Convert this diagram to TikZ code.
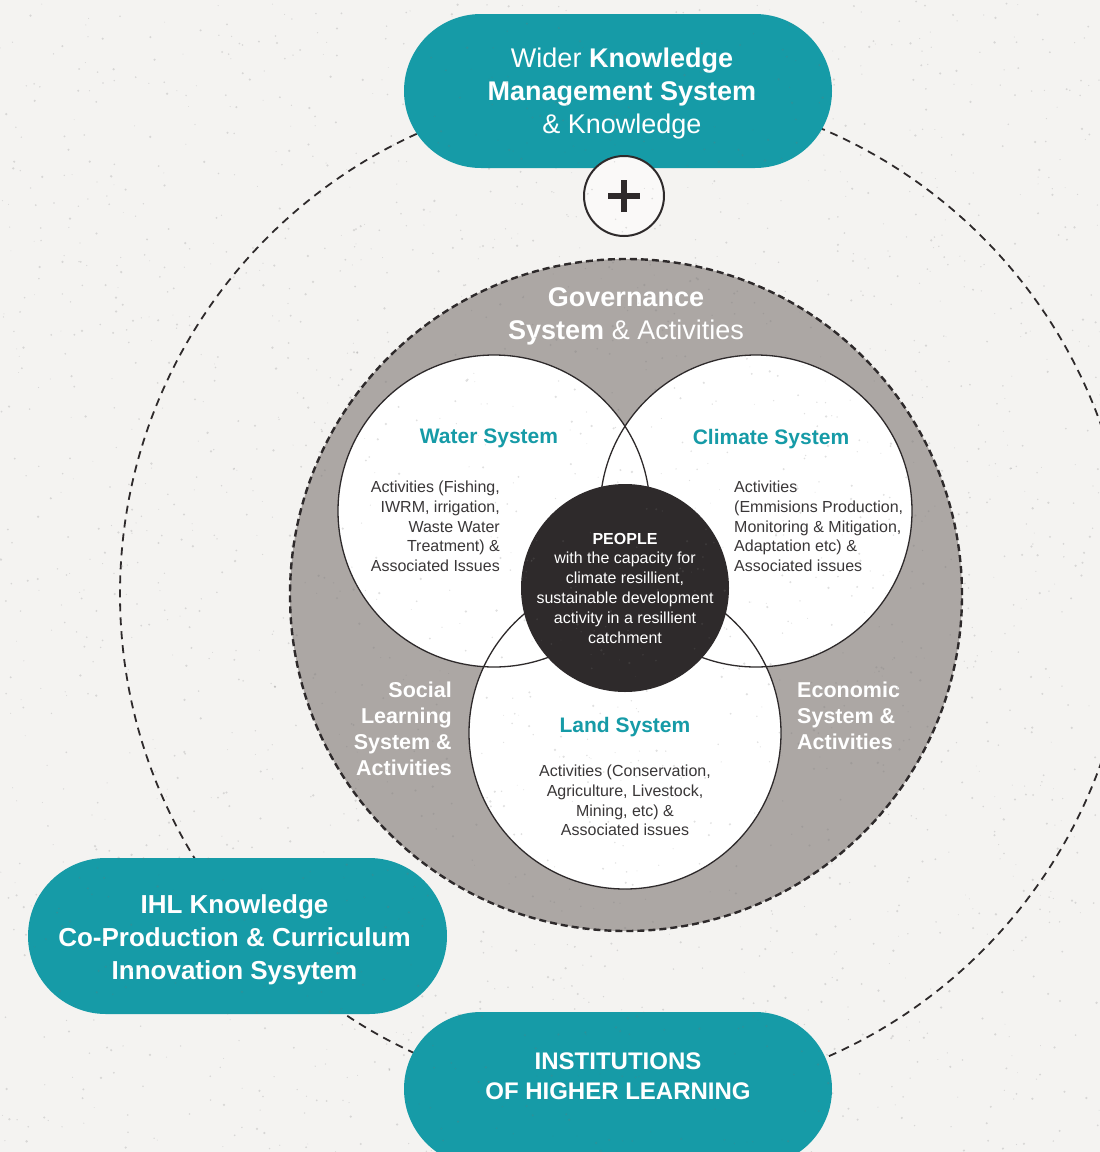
\documentclass[tikz,border=0pt]{standalone}
\usepackage{fontspec}
\setmainfont{Liberation Sans}
\usetikzlibrary{positioning,shapes.misc}

\definecolor{ihlteal}{RGB}{22,155,167}
\definecolor{ringgrey}{RGB}{172,167,164}
\definecolor{peopledark}{RGB}{46,42,43}
\definecolor{bodygrey}{RGB}{58,55,56}
\definecolor{paper}{RGB}{244,243,241}

\tikzset{
  pill/.style={rounded rectangle, fill=ihlteal, minimum width=428pt, minimum height=154pt, inner sep=0pt},
  pilltext/.style={text=white, align=center, inner sep=0pt},
  venn/.style={circle, fill=white, minimum size=312pt, inner sep=0pt},
  vennline/.style={draw=peopledark, line width=1.3pt},
  vtitle/.style={text=ihlteal, font=\fontsize{21}{25}\selectfont\bfseries, inner sep=0pt},
  vbody/.style={text=bodygrey, font=\fontsize{16}{19.7}\selectfont, inner sep=0pt},
  ringtext/.style={text=white, font=\fontsize{21.5}{26}\selectfont\bfseries, inner sep=0pt},
  speck/.style={fill=black!55, opacity=0.22},
}

\begin{document}
\begin{tikzpicture}[x=1pt, y=-1pt]
  % paper
  \fill[paper] (0,0) rectangle (1100,1152);
  \useasboundingbox (0,0) rectangle (1100,1152);

  % outer dashed ring and governance disc
  \coordinate (hub) at (625,594);
  \draw[peopledark, line width=1.8pt, dash pattern=on 8pt off 6pt] (hub) circle (505pt);
  \node[circle, fill=ringgrey, draw=peopledark, line width=2.4pt, dash pattern=on 7pt off 4pt,
    minimum size=672pt] (gov) at (626,595) {};

  % the three systems
  \node[venn] (water) at (494,511) {};
  \node[venn] (climate) at (756,511) {};
  \node[venn] (land) at (625,733) {};
  \foreach \c in {water,climate,land}
    \draw[vennline] (\c.center) circle (156pt);

  \node[circle, fill=peopledark, minimum size=208pt, inner sep=0pt, text=white, align=center,
    font=\fontsize{16}{19.8}\selectfont] (people) at (625,588)
    {\textbf{PEOPLE}\\with the capacity for\\climate resillient,\\sustainable development\\activity in a resillient\\catchment};

  \node[vtitle] (wtitle) at (489,438) {Water System};
  \node[vtitle] (ctitle) at (771,439) {Climate System};
  \node[vtitle] (ltitle) at (625,727) {Land System};

  \node[vbody, align=right, anchor=east] (wbody) at (500,526.5)
    {Activities (Fishing,\\IWRM, irrigation,\\Waste Water\\Treatment) \&\\Associated Issues};
  \node[vbody, align=left, anchor=west] (cbody) at (734,526.5)
    {Activities\\(Emmisions Production,\\Monitoring \& Mitigation,\\Adaptation etc) \&\\Associated issues};
  \node[vbody, align=center] (lbody) at (625,800.5)
    {Activities (Conservation,\\Agriculture, Livestock,\\Mining, etc) \&\\Associated issues};

  % labels on the grey disc
  \node[text=white, font=\fontsize{27}{33}\selectfont, align=center, inner sep=0pt] (govtext) at (626,316)
    {\textbf{Governance}\\\textbf{System} \& Activities};
  \node[ringtext, align=right, anchor=east] (social) at (452,729) {Social\\Learning\\System \&\\Activities};
  \node[ringtext, align=left, anchor=west] (econ) at (797,716) {Economic\\System \&\\Activities};

  % knowledge pills
  \node[pill] (wider) at (618,91) {};
  \node[pilltext, font=\fontsize{27}{33}\selectfont] (widertext) at ([xshift=4pt,yshift=-3pt]wider.center)
    {Wider \textbf{Knowledge}\\\textbf{Management System}\\\& Knowledge};
  \node[pill, minimum width=419pt, minimum height=156pt] (ihl) at (237.5,936) {};
  \node[pilltext, font=\fontsize{26}{33}\selectfont\bfseries] (ihltext) at ([xshift=-3pt,yshift=-3.5pt]ihl.center)
    {IHL Knowledge\\Co-Production \& Curriculum\\Innovation Sysytem};
  \node[pill] (inst) at (618,1089) {};
  \node[pilltext, font=\fontsize{24}{30}\selectfont\bfseries] (insttext)
    at ([yshift=13pt]inst.center) {INSTITUTIONS\\OF HIGHER LEARNING};

  % plus between the pill and the disc
  \node[circle, draw=peopledark, line width=2pt, fill=paper!50!white, minimum size=80pt] (plus) at (624,196) {};
  \draw[peopledark, line width=6pt] ([xshift=-16pt]plus.center) -- ([xshift=16pt]plus.center)
    ([yshift=-16pt]plus.center) -- ([yshift=16pt]plus.center);

  % grain over the whole sheet
  \pgfmathsetseed{1152}
  \foreach \i in {1,...,2200}
    \fill[speck] (rnd*1100, rnd*1152) circle (0.4pt+rnd*0.9pt);
\end{tikzpicture}
\end{document}
